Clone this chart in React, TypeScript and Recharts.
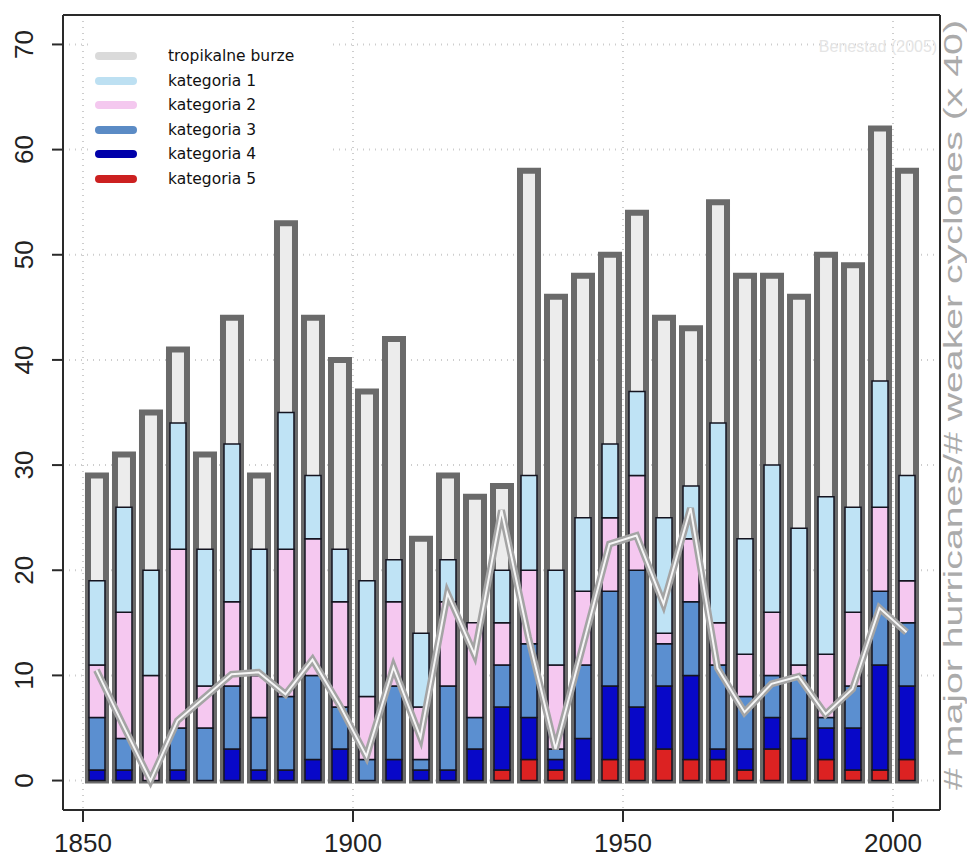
import React from "react";
import {
  ComposedChart,
  Bar,
  Line,
  XAxis,
  YAxis,
  CartesianGrid,
  ReferenceLine,
} from "recharts";

// 5-year periods, plotted at their mid-point
const years = [
  1852.5, 1857.5, 1862.5, 1867.5, 1872.5, 1877.5, 1882.5, 1887.5, 1892.5, 1897.5,
  1902.5, 1907.5, 1912.5, 1917.5, 1922.5, 1927.5, 1932.5, 1937.5, 1942.5, 1947.5,
  1952.5, 1957.5, 1962.5, 1967.5, 1972.5, 1977.5, 1982.5, 1987.5, 1992.5, 1997.5,
  2002.5,
];

// counts per period, stacked bottom to top: cat 5 .. cat 1, then tropical storms
const cat5 = [0, 0, 0, 0, 0, 0, 0, 0, 0, 0, 0, 0, 0, 0, 0, 1, 2, 1, 0, 2, 2, 3, 2, 2, 1, 3, 0, 2, 1, 1, 2];
const cat4 = [1, 1, 0, 1, 0, 3, 1, 1, 2, 3, 0, 2, 1, 1, 3, 6, 4, 1, 4, 7, 5, 6, 8, 1, 2, 3, 4, 3, 4, 10, 7];
const cat3 = [5, 3, 0, 4, 5, 6, 5, 7, 8, 4, 2, 7, 1, 8, 3, 4, 7, 1, 7, 9, 13, 4, 7, 8, 5, 4, 6, 1, 4, 7, 6];
const cat2 = [5, 12, 10, 17, 4, 8, 4, 14, 13, 10, 6, 8, 5, 8, 9, 4, 7, 8, 7, 7, 9, 1, 6, 4, 4, 6, 1, 6, 7, 8, 4];
const cat1 = [8, 10, 10, 12, 13, 15, 12, 13, 6, 5, 11, 4, 7, 4, 0, 5, 9, 9, 7, 7, 8, 11, 5, 19, 11, 14, 13, 15, 10, 12, 10];
const tropical = [10, 5, 15, 7, 9, 12, 7, 18, 15, 18, 18, 21, 9, 8, 12, 8, 29, 26, 23, 18, 17, 19, 15, 21, 25, 18, 22, 23, 23, 24, 29];

// major hurricanes / weaker cyclones, times 40
const ratio = [
  10.5, 5.2, 0, 5.7, 7.9, 10.1, 10.3, 8.2, 11.5, 7.2, 2.3, 10.8, 4.1, 17.8, 12.0, 25.7,
  13.6, 3.0, 12.7, 22.5, 23.3, 16.8, 25.9, 10.7, 6.5, 9.2, 9.9, 6.3, 8.7, 16.4, 14.1,
];

const xTicks = [1850, 1900, 1950, 2000];
const yTicks = [0, 10, 20, 30, 40, 50, 60, 70];

const COLORS = {
  tropical: "#ececec",
  cat1: "#bfe3f5",
  cat2: "#f5c8f0",
  cat3: "#5b8fd0",
  cat4: "#0808c8",
  cat5: "#dc2222",
};

const legendItems = [
  { label: "tropikalne burze", color: "#dadada" },
  { label: "kategoria 1", color: "#bde0f2" },
  { label: "kategoria 2", color: "#f4c8ef" },
  { label: "kategoria 3", color: "#5b8bc5" },
  { label: "kategoria 4", color: "#0000aa" },
  { label: "kategoria 5", color: "#cc2020" },
];

const data = years.map((year, i) => ({
  year,
  cat5: cat5[i],
  cat4: cat4[i],
  cat3: cat3[i],
  cat2: cat2[i],
  cat1: cat1[i],
  total: cat5[i] + cat4[i] + cat3[i] + cat2[i] + cat1[i] + tropical[i],
  ratio: ratio[i],
}));

const AXIS = "#2a2a2a";
const FONT = "'Liberation Sans', Arial, sans-serif";

function YTick({ y, payload }: any) {
  const cx = 24;
  return (
    <text
      x={cx}
      y={y}
      transform={`rotate(-90, ${cx}, ${y})`}
      textAnchor="middle"
      dominantBaseline="central"
      fontSize={26}
      fontFamily={FONT}
      fill="#222"
    >
      {payload.value}
    </text>
  );
}

function XTick({ x, payload }: any) {
  return (
    <text
      x={x}
      y={843}
      textAnchor="middle"
      dominantBaseline="central"
      fontSize={26}
      fontFamily={FONT}
      fill="#222"
    >
      {payload.value}
    </text>
  );
}

export default function App() {
  const segStroke = "#141420";
  return (
    <div style={{ position: "absolute", left: 0, top: 0, width: 967, height: 859, background: "#fff" }}>
      <ComposedChart
        width={967}
        height={859}
        data={data}
        margin={{ top: 15, right: 0, bottom: 0, left: 0 }}
      >
        <CartesianGrid
          xAxisId="main"
          yAxisId="left"
          stroke="#cdcdcd"
          strokeWidth={2}
          strokeDasharray="1 5"
          verticalValues={xTicks}
          horizontalValues={yTicks}
        />
        <XAxis
          xAxisId="main"
          dataKey="year"
          type="number"
          domain={[1846.3, 2008.7]}
          allowDataOverflow
          ticks={xTicks}
          tick={<XTick />}
          tickSize={12}
          tickLine={{ stroke: AXIS, strokeWidth: 2 }}
          axisLine={{ stroke: AXIS, strokeWidth: 2 }}
          height={49}
        />
        <XAxis
          xAxisId="outer"
          dataKey="year"
          type="number"
          domain={[1846.3, 2008.7]}
          allowDataOverflow
          hide
        />
        <YAxis
          yAxisId="left"
          type="number"
          domain={[-2.8, 72.8]}
          allowDataOverflow
          ticks={yTicks}
          tick={<YTick />}
          tickSize={11}
          tickLine={{ stroke: AXIS, strokeWidth: 2 }}
          axisLine={{ stroke: AXIS, strokeWidth: 2 }}
          width={63}
        />
        <YAxis
          yAxisId="right"
          orientation="right"
          type="number"
          domain={[-2.8, 72.8]}
          allowDataOverflow
          tick={false}
          tickLine={false}
          axisLine={{ stroke: AXIS, strokeWidth: 2 }}
          width={27}
        />
        <ReferenceLine yAxisId="left" xAxisId="main" y={72.8} stroke={AXIS} strokeWidth={2} />

        <Bar
          xAxisId="outer"
          yAxisId="left"
          dataKey="total"
          barSize={18}
          fill={COLORS.tropical}
          stroke="#6a6a6a"
          strokeWidth={6}
          isAnimationActive={false}
        />
        <Bar xAxisId="main" yAxisId="left" dataKey="cat5" stackId="h" barSize={16} fill={COLORS.cat5} stroke={segStroke} strokeWidth={1.5} isAnimationActive={false} />
        <Bar xAxisId="main" yAxisId="left" dataKey="cat4" stackId="h" barSize={16} fill={COLORS.cat4} stroke={segStroke} strokeWidth={1.5} isAnimationActive={false} />
        <Bar xAxisId="main" yAxisId="left" dataKey="cat3" stackId="h" barSize={16} fill={COLORS.cat3} stroke={segStroke} strokeWidth={1.5} isAnimationActive={false} />
        <Bar xAxisId="main" yAxisId="left" dataKey="cat2" stackId="h" barSize={16} fill={COLORS.cat2} stroke={segStroke} strokeWidth={1.5} isAnimationActive={false} />
        <Bar xAxisId="main" yAxisId="left" dataKey="cat1" stackId="h" barSize={16} fill={COLORS.cat1} stroke={segStroke} strokeWidth={1.5} isAnimationActive={false} />

        <Line
          xAxisId="main"
          yAxisId="left"
          dataKey="ratio"
          type="linear"
          stroke="#a4a4a4"
          strokeWidth={7}
          dot={false}
          activeDot={false}
          isAnimationActive={false}
        />
        <Line
          xAxisId="main"
          yAxisId="left"
          dataKey="ratio"
          type="linear"
          stroke="#f6f6f6"
          strokeWidth={2}
          dot={false}
          activeDot={false}
          isAnimationActive={false}
        />
      </ComposedChart>

      <div
        style={{
          position: "absolute",
          left: 88,
          top: 40,
          width: 240,
          padding: "4px 0",
          background: "#fff",
          fontFamily: "'DejaVu Sans', sans-serif",
          fontSize: 15.5,
          color: "#111",
        }}
      >
        {legendItems.map((it) => (
          <div key={it.label} style={{ display: "flex", alignItems: "center", height: 24.5 }}>
            <div
              style={{
                width: 42,
                height: 8,
                borderRadius: 4,
                background: it.color,
                marginLeft: 7,
                marginRight: 31,
              }}
            />
            <span>{it.label}</span>
          </div>
        ))}
      </div>

      <svg
        width={967}
        height={859}
        style={{ position: "absolute", left: 0, top: 0, pointerEvents: "none" }}
      >
        <text
          x={878}
          y={46}
          textAnchor="middle"
          dominantBaseline="central"
          fontSize={16}
          fontFamily={FONT}
          fill="#e4e4e4"
        >
          Benestad (2005)
        </text>
        <text
          x={953}
          y={405}
          transform="rotate(-90, 953, 405)"
          textAnchor="middle"
          dominantBaseline="central"
          fontSize={25}
          fontFamily={FONT}
          fill="#ababab"
          textLength={770}
          lengthAdjust="spacingAndGlyphs"
        >
          # major hurricanes/# weaker cyclones (x 40)
        </text>
      </svg>
    </div>
  );
}
